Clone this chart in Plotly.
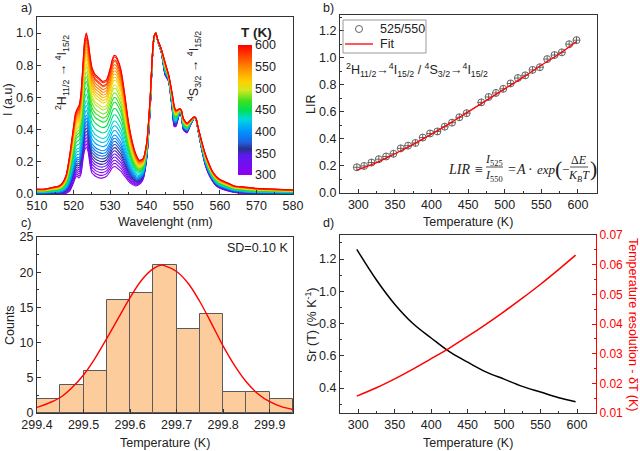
import plotly.graph_objects as go
from plotly.colors import sample_colorscale

W, H = 640, 451
def X(px): return px / W
def Y(py): return 1 - py / H

# ---------------- Panel a data ----------------
wl = [510, 512, 514, 516, 517, 518, 519, 520, 520.5, 521, 521.5, 522, 522.5, 523, 523.5, 524, 524.5,
      525, 525.5, 526, 527, 528, 529, 530, 530.5, 531, 531.5, 532, 533, 534, 535, 536, 537, 538, 539,
      540, 541, 541.5, 542, 542.5, 543, 544, 545, 545.5, 546, 547, 547.5, 548, 549, 549.5, 550, 551,
      552, 553, 553.5, 554, 555, 556, 557, 558, 559, 560, 562, 564, 566, 568, 570, 575, 580]
spec_600 = [0.03, 0.03, 0.04, 0.05, 0.07, 0.12, 0.25, 0.42, 0.50, 0.53, 0.55, 0.62, 0.78, 0.95, 1.0, 0.95, 0.86,
            0.79, 0.76, 0.74, 0.72, 0.70, 0.71, 0.78, 0.83, 0.86, 0.86, 0.84, 0.77, 0.62, 0.45, 0.33, 0.25, 0.21, 0.22,
            0.32, 0.62, 0.85, 0.98, 1.0, 0.96, 0.90, 0.82, 0.78, 0.74, 0.62, 0.55, 0.52, 0.53, 0.52, 0.47, 0.44,
            0.46, 0.48, 0.47, 0.42, 0.33, 0.25, 0.19, 0.14, 0.11, 0.09, 0.07, 0.05, 0.045, 0.04, 0.035, 0.03, 0.025]
spec_300 = [0.0, 0.0, 0.0, 0.0, 0.0, 0.005, 0.02, 0.07, 0.10, 0.11, 0.10, 0.12, 0.20, 0.27, 0.29, 0.26, 0.18,
            0.13, 0.12, 0.11, 0.10, 0.10, 0.11, 0.14, 0.16, 0.17, 0.17, 0.16, 0.14, 0.11, 0.08, 0.06, 0.05, 0.06, 0.09,
            0.22, 0.55, 0.82, 0.97, 1.0, 0.95, 0.88, 0.74, 0.72, 0.70, 0.52, 0.42, 0.42, 0.50, 0.48, 0.40, 0.38,
            0.43, 0.47, 0.46, 0.40, 0.28, 0.18, 0.12, 0.08, 0.05, 0.035, 0.02, 0.01, 0.005, 0.0, 0.0, 0.0, 0.0]
T_spec = [300, 310, 320, 330, 340, 350, 360, 370, 380, 390, 400, 410, 420, 430, 440, 450,
          460, 470, 480, 490, 500, 510, 520, 530, 540, 550, 560, 570, 580, 590, 600]
peak523 = [0.29, 0.31, 0.33, 0.35, 0.37, 0.39, 0.41, 0.43, 0.45, 0.47, 0.49, 0.52, 0.55, 0.58, 0.62, 0.66,
           0.70, 0.73, 0.76, 0.79, 0.81, 0.84, 0.86, 0.88, 0.90, 0.92, 0.94, 0.96, 0.97, 0.99, 1.0]

cscale = [[0.0, '#9000F0'], [0.15, '#5A1AF0'], [0.2, '#2B2F8A'], [0.25, '#2060E0'], [0.33, '#0090FF'],
          [0.43, '#00D8E0'], [0.5, '#00E050'], [0.57, '#40E020'], [0.65, '#D0E820'], [0.72, '#FFD000'],
          [0.8, '#FF9C00'], [0.9, '#FF5000'], [1.0, '#FF0000']]

# ---------------- Panel b data ----------------
T_lir = [298, 308, 318, 328, 338, 348, 358, 368, 378, 388, 398, 408, 418, 428, 438, 448,
         468, 478, 488, 498, 508, 518, 528, 538, 548, 558, 568, 578, 588, 598]
lir = [0.19, 0.20, 0.225, 0.25, 0.27, 0.29, 0.33, 0.35, 0.37, 0.41, 0.44, 0.455, 0.49, 0.52, 0.56, 0.59,
       0.67, 0.71, 0.74, 0.77, 0.81, 0.85, 0.87, 0.91, 0.93, 0.99, 1.02, 1.04, 1.10, 1.13]
T_fit = [298, 325, 350, 375, 400, 425, 450, 475, 500, 525, 550, 575, 598]
lir_fit = [0.17, 0.225, 0.29, 0.36, 0.435, 0.515, 0.60, 0.685, 0.77, 0.855, 0.945, 1.03, 1.12]

# ---------------- Panel c data ----------------
bin_centers = [299.425, 299.475, 299.525, 299.575, 299.625, 299.675, 299.725, 299.775, 299.825, 299.875, 299.925]
counts = [2, 4, 6, 16, 17, 21, 12, 14, 3, 3, 2]
g_x = [299.400, 299.425, 299.450, 299.475, 299.500, 299.525, 299.550, 299.575, 299.600, 299.625, 299.650,
       299.667, 299.675, 299.700, 299.725, 299.750, 299.775, 299.800, 299.825, 299.850, 299.875, 299.900,
       299.925, 299.950]
g_y = [0.8, 1.4, 2.2, 3.6, 5.4, 7.8, 10.6, 13.5, 16.4, 18.9, 20.5, 21.0, 20.9, 20.1, 18.4, 15.8, 12.7, 9.5,
       6.7, 4.4, 2.7, 1.6, 0.9, 0.5]

# ---------------- Panel d data ----------------
T_d = [298, 325, 350, 375, 400, 425, 450, 475, 500, 525, 550, 575, 598]
sr = [1.26, 1.07, 0.92, 0.80, 0.71, 0.625, 0.56, 0.50, 0.455, 0.41, 0.375, 0.34, 0.315]
dT = [0.0157, 0.0185, 0.0215, 0.0248, 0.0283, 0.0319, 0.0358, 0.0399, 0.0442, 0.0487, 0.0534, 0.0584, 0.0632]

fig = go.Figure()

# Panel a spectra
lo_pk, hi_pk = max(spec_300[:30]), max(spec_600[:30])
for T, pk in zip(T_spec, peak523):
    w = (pk - lo_pk) / (hi_pk - lo_pk)
    yv = [l + w * (h - l) for l, h in zip(spec_300, spec_600)]
    col = sample_colorscale(cscale, (T - 300) / 300)[0]
    fig.add_trace(go.Scatter(x=wl, y=yv, mode='lines', line=dict(color=col, width=1.1, shape='spline', smoothing=0.5),
                             xaxis='x', yaxis='y', showlegend=False, hoverinfo='skip'))
# colorbar
fig.add_trace(go.Scatter(x=[None, None], y=[None, None], mode='markers', xaxis='x', yaxis='y', showlegend=False,
                         marker=dict(color=[300, 600], colorscale=cscale, cmin=300, cmax=600, showscale=True,
                                     colorbar=dict(x=X(238), xanchor='left', y=Y(110), yanchor='middle',
                                                   len=130, lenmode='pixels', thickness=14, thicknessmode='pixels',
                                                   outlinewidth=0, xpad=0, ypad=0, ticks='',
                                                   tickvals=[300, 350, 400, 450, 500, 550, 600],
                                                   tickfont=dict(size=12.5, color='#222')))))

# Panel b
fig.add_trace(go.Scatter(x=T_lir, y=lir, mode='markers', xaxis='x2', yaxis='y2', showlegend=False,
                         marker=dict(symbol='circle-cross-open', size=7, color='#555', line=dict(width=0.9))))
fig.add_trace(go.Scatter(x=T_fit, y=lir_fit, mode='lines', xaxis='x2', yaxis='y2', showlegend=False,
                         line=dict(color='#FF0000', width=1.3, shape='spline')))

# Panel c
fig.add_trace(go.Bar(x=bin_centers, y=counts, width=0.05, xaxis='x3', yaxis='y3', showlegend=False,
                     marker=dict(color='#FDCC9C', line=dict(color='#5a5a5a', width=1))))
fig.add_trace(go.Scatter(x=g_x, y=g_y, mode='lines', xaxis='x3', yaxis='y3', showlegend=False,
                         line=dict(color='#FF0000', width=1.4, shape='spline')))

# Panel d
fig.add_trace(go.Scatter(x=T_d, y=sr, mode='lines', xaxis='x4', yaxis='y4', showlegend=False,
                         line=dict(color='#000000', width=1.5, shape='spline')))
fig.add_trace(go.Scatter(x=T_d, y=dT, mode='lines', xaxis='x4', yaxis='y5', showlegend=False,
                         line=dict(color='#FF0000', width=1.5, shape='spline')))

ax_common = dict(showgrid=False, zeroline=False, showline=True, linecolor='#333', linewidth=1,
                 ticks='inside', ticklen=4, tickcolor='#333', tickfont=dict(size=12.5, color='#222'))

def ax(**kw):
    d = dict(ax_common)
    d.update(kw)
    return d

fig.update_layout(
    width=W, height=H, margin=dict(l=0, r=0, t=0, b=0, autoexpand=False),
    paper_bgcolor='white', plot_bgcolor='white', showlegend=False,
    font=dict(family='Liberation Sans, Arial, sans-serif', size=12.5, color='#222'),
    xaxis=ax(domain=[X(37), X(293)], range=[510, 580], dtick=10, mirror=True, anchor='y',
             minor=dict(ticks='inside', ticklen=2, dtick=5, tickcolor='#333')),
    yaxis=ax(domain=[Y(194), Y(17)], range=[0, 1.1], dtick=0.2, tickformat='.1f', mirror=True, anchor='x',
             minor=dict(ticks='inside', ticklen=2, dtick=0.1, tickcolor='#333')),
    xaxis2=ax(domain=[X(340), X(597)], range=[275, 626], dtick=50, tick0=300, mirror=True, anchor='y2',
              minor=dict(ticks='inside', ticklen=2, dtick=25, tickcolor='#333')),
    yaxis2=ax(domain=[Y(193), Y(15)], range=[0, 1.316], dtick=0.2, tickformat='.1f', mirror=True, anchor='x2',
              minor=dict(ticks='inside', ticklen=2, dtick=0.1, tickcolor='#333')),
    xaxis3=ax(domain=[X(37), X(293)], range=[299.4, 299.95], dtick=0.1, tick0=299.4, tickformat='.1f',
              mirror=True, anchor='y3'),
    yaxis3=ax(domain=[Y(413), Y(237)], range=[0, 25], dtick=5, mirror=True, anchor='x3',
              minor=dict(ticks='inside', ticklen=2, dtick=2.5, tickcolor='#333')),
    xaxis4=ax(domain=[X(340), X(596)], range=[275, 626], dtick=50, tick0=300, mirror=True, anchor='y4',
              minor=dict(ticks='inside', ticklen=2, dtick=25, tickcolor='#333')),
    yaxis4=ax(domain=[Y(413), Y(235)], range=[0.245, 1.349], dtick=0.2, tick0=0.4, tickformat='.1f', anchor='x4',
              minor=dict(ticks='inside', ticklen=2, dtick=0.1, tickcolor='#333')),
    yaxis5=dict(overlaying='y4', side='right', anchor='x4', range=[0.01, 0.07], dtick=0.01, tickformat='.2f',
                showgrid=False, zeroline=False, showline=True, linecolor='#FF0000', linewidth=1,
                ticks='inside', ticklen=4, tickcolor='#FF0000', tickfont=dict(size=12, color='#FF0000'),
                minor=dict(ticks='inside', ticklen=2, dtick=0.005, tickcolor='#FF0000')),
    bargap=0,
)

ann = []
def A(px, py, text, size=12.5, xa='center', ya='middle', angle=0, color='#222', family=None):
    f = dict(size=size, color=color)
    if family:
        f['family'] = family
    ann.append(dict(x=X(px), y=Y(py), xref='paper', yref='paper', text=text, showarrow=False,
                    xanchor=xa, yanchor=ya, textangle=angle, font=f))

# panel labels
A(26, 8, 'a)', 12.5); A(328, 8, 'b)', 12.5); A(26, 223, 'c)', 12.5); A(328, 223, 'd)', 12.5)
# axis titles
A(8, 100, 'I (a.u)', angle=-90)
A(165, 222, 'Wavelenght (nm)')
A(311, 105, 'LIR', angle=-90)
A(468, 222, 'Temperature (K)')
A(10, 325, 'Counts', angle=-90)
A(165, 443, 'Temperature (K)')
A(311, 325, 'Sr (T) (% K<sup>-1</sup>)', angle=-90)
A(468, 443, 'Temperature (K)')
A(633, 324, 'Temperature resolution - δT (K)', angle=90, color='#FF0000')
# panel a text
A(62, 73, '<sup>2</sup>H<sub>11/2</sub> → <sup>4</sup>I<sub>15/2</sub>', angle=-90)
A(194, 66, '<sup>4</sup>S<sub>3/2</sub> → <sup>4</sup>I<sub>15/2</sub>', angle=-90)
A(256, 33, '<b>T (K)</b>', 13.5)
# panel b legend (drawn by hand)
A(378, 29, '525/550', xa='left')
A(378, 44, 'Fit', xa='left')
# panel b text
A(344, 70, '<sup>2</sup>H<sub>11/2</sub>→<sup>4</sup>I<sub>15/2</sub> / <sup>4</sup>S<sub>3/2</sub>→<sup>4</sup>I<sub>15/2</sub>',
  xa='left')
serif = 'Liberation Serif, DejaVu Serif, serif'
A(472, 169, '<i>LIR</i>', 14, xa='right', family=serif)
A(479, 169, '≡', 14, family=serif)
A(494, 160, '<i>I</i><sub>525</sub>', 12, family=serif)
A(494, 176, '<i>I</i><sub>550</sub>', 12, family=serif)
A(512, 169, '=', 14, family=serif)
A(521, 169, '<i>A</i>', 14, family=serif)
A(530, 169, '·', 14, family=serif)
A(535, 169, '<i>exp</i>', 13, xa='left', family=serif)
A(558, 168, '(', 22, family=serif)
A(565, 169, '−', 13, family=serif)
A(579, 160, 'Δ<i>E</i>', 12, family=serif)
A(579, 176, '<i>K<sub>B</sub>T</i>', 12, family=serif)
A(593, 168, ')', 22, family=serif)
# panel c text
A(290, 248, 'SD=0.10 K', xa='right')

fig.update_layout(annotations=ann, shapes=[
    dict(type='line', xref='paper', yref='paper', x0=X(486), x1=X(503), y0=Y(167), y1=Y(167),
         line=dict(color='#222', width=0.8)),
    dict(type='line', xref='paper', yref='paper', x0=X(570), x1=X(588), y0=Y(167), y1=Y(167),
         line=dict(color='#222', width=0.8)),
    # legend box and symbols
    dict(type='rect', xref='paper', yref='paper', x0=X(343), x1=X(426), y0=Y(53), y1=Y(20),
         line=dict(color='#999', width=1), fillcolor='rgba(0,0,0,0)'),
    dict(type='circle', xref='paper', yref='paper', x0=X(355.5), x1=X(362.5), y0=Y(32.5), y1=Y(25.5),
         line=dict(color='#555', width=0.9)),
    dict(type='line', xref='paper', yref='paper', x0=X(345), x1=X(373), y0=Y(44), y1=Y(44),
         line=dict(color='#FF0000', width=1.3)),
])

fig.write_html('out.html', config={'displayModeBar': False},
               post_script="document.body.style.margin='0';document.body.style.padding='0';"
                           "document.body.style.overflow='hidden';")
